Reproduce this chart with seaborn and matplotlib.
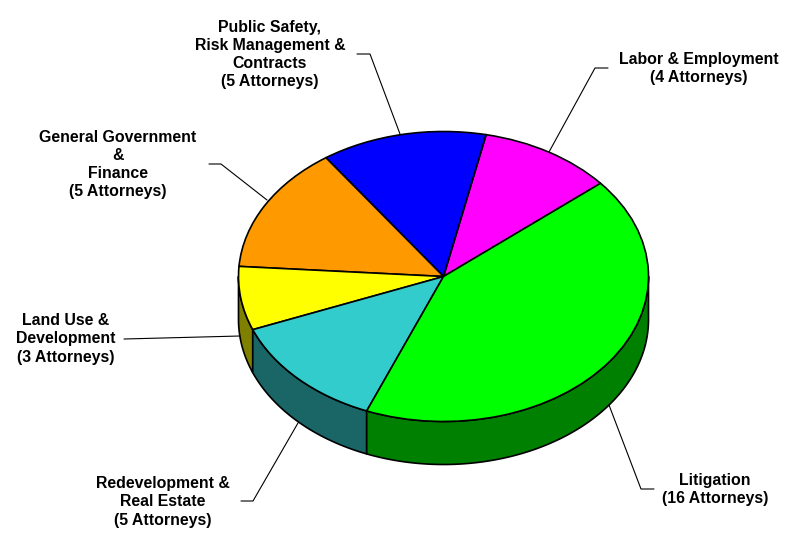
import numpy as np
import matplotlib
matplotlib.use("Agg")
import matplotlib.pyplot as plt
import seaborn as sns

# slice shares, in pie order starting at the Labor slice
names = ['Labor & Employment', 'Public Safety', 'General Government', 'Land Use',
         'Redevelopment', 'Litigation']
shares = [38, 47, 51, 25.5, 46.5, 152]
top_colors = ['#FF00FF', '#0000FF', '#FF9900', '#FFFF00', '#33CCCC', '#00FF00']
side_colors = ['#800080', '#000080', '#804C00', '#808000', '#1A6666', '#008000']

label_texts = ['Public Safety,\nRisk Management &\nContracts\n(5 Attorneys)',
               'Labor & Employment\n(4 Attorneys)',
               'General Government\n&\nFinance\n(5 Attorneys)',
               'Land Use &\nDevelopment\n(3 Attorneys)',
               'Redevelopment &\nReal Estate\n(5 Attorneys)',
               'Litigation\n(16 Attorneys)']
label_x = [270, 699, 118, 66, 163, 715]
label_y = [54.5, 68.5, 164.5, 339, 502, 489.5]
leaders = [[(357, 54), (370, 54), (400, 134)],
           [(608, 68), (595, 68), (549, 152)],
           [(209, 164), (221, 164), (267, 200)],
           [(124, 339), (240, 336)],
           [(241, 501), (253, 501), (298, 423)],
           [(654, 489), (641, 489), (609, 405)]]

sns.set_theme(style='white')
plt.rcParams['font.family'] = ['Liberation Sans', 'DejaVu Sans']

W, H = 789, 536
cx, cy, rx, ry, depth = 443.5, 276.5, 205, 145, 43
start = 40

fig = plt.figure(figsize=(W / 100, H / 100), dpi=100, facecolor='white')
ax = fig.add_axes([0, 0, 1, 1])

# side of the disc, drawn under the flat pie
d = depth / ry
edges = start + np.cumsum([0] + shares) * 360 / sum(shares)
for a0, a1, col in zip(edges[:-1], edges[1:], side_colors):
    for shift in (-360, 0):
        lo, hi = max(a0 + shift, 180), min(a1 + shift, 360)
        if hi <= lo:
            continue
        t = np.radians(np.linspace(lo, hi, 120))
        x = np.cos(t)
        ax.fill(np.r_[x, x[::-1]], np.r_[np.sin(t), np.sin(t[::-1]) - d],
                facecolor=col, edgecolor='black', linewidth=1.2, joinstyle='round', zorder=1)

ax.pie(shares, colors=top_colors, startangle=start, counterclock=True, radius=1,
       wedgeprops=dict(edgecolor='black', linewidth=1.2, zorder=2))
ax.set_aspect('auto')
ax.set_xlim(-cx / rx, (W - cx) / rx)
ax.set_ylim((cy - H) / ry, cy / ry)
ax.axis('off')

# overlay in picture pixels for labels and leader lines
ov = fig.add_axes([0, 0, 1, 1], facecolor='none')
ov.set_xlim(0, W)
ov.set_ylim(H, 0)
ov.axis('off')
for pts in leaders:
    xs, ys = zip(*pts)
    ov.plot(xs, ys, color='black', linewidth=0.8)
for x, y, s in zip(label_x, label_y, label_texts):
    ov.text(x, y, s, ha='center', va='center', ma='center', fontsize=11.4,
            fontweight='bold', color='black', linespacing=1.27)

fig.savefig('out.png', dpi=100)
